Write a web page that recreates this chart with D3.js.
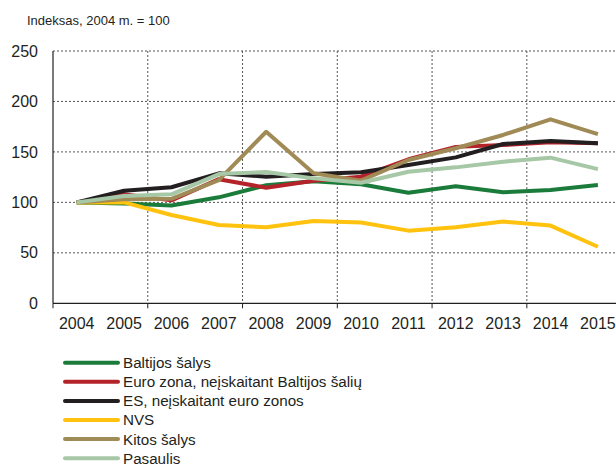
<!DOCTYPE html>
<html>
<head>
<meta charset="utf-8">
<script src="https://cdn.jsdelivr.net/npm/d3@7"></script>
<style>
  body { margin: 0; background: #fff; }
  text { font-family: "Liberation Sans Narrow", "Arial Narrow", "Liberation Sans", Arial, sans-serif; fill: #231f20; }
</style>
</head>
<body>
<div class="chart"></div>
<script>
const years = [2004, 2005, 2006, 2007, 2008, 2009, 2010, 2011, 2012, 2013, 2014, 2015];
const yTicks = [0, 50, 100, 150, 200, 250];

const baltijos = [100, 99, 97, 105, 117, 121, 118, 109.6, 116, 110, 112.3, 117.2];
const euroZona = [100, 108, 102, 123, 114.5, 121.5, 125.5, 142.7, 155, 156.8, 159.5, 158.5];
const esNeEuro = [100, 111.5, 115, 128.8, 125.5, 128, 129.8, 137, 144.6, 157.8, 160.8, 158.5];
const nvs = [100, 100, 87.5, 77.6, 75.3, 81.6, 80, 72, 75.3, 81, 77, 56];
const kitos = [100, 103, 103.5, 122, 170, 128.8, 121.5, 142, 153.6, 166.8, 182.3, 167.7];
const pasaulis = [100, 106.3, 108, 128, 130, 123.8, 119.5, 130.4, 134.7, 140.3, 144.3, 133];

const seriesNames = ['Baltijos šalys', 'Euro zona, neįskaitant Baltijos šalių', 'ES, neįskaitant euro zonos', 'NVS', 'Kitos šalys', 'Pasaulis'];
const seriesValues = [baltijos, euroZona, esNeEuro, nvs, kitos, pasaulis];
const seriesColors = ['#1b7b3b', '#b4232a', '#231f20', '#ffc20e', '#a08a55', '#a7c8a6'];

const W = 616, H = 466;
const plot = {left: 53, top: 51, right: 621.6, bottom: 303.3};

let svg = d3.select('.chart')
    .append('svg')
    .attr('width', W)
    .attr('height', H);

// scales
let xScale = d3.scaleBand()
    .domain(years)
    .range([plot.left, plot.right])
    .paddingInner(0).paddingOuter(0);

let yScale = d3.scaleLinear()
    .domain([0, 250])
    .range([plot.bottom, plot.top]);

// title
svg.append('text')
    .attr('x', 27)
    .attr('y', 25)
    .attr('font-size', 13)
    .text('Indeksas, 2004 m. = 100');

// horizontal dotted grid
svg.append('g')
    .selectAll('line')
    .data(yTicks.filter(d => d > 0))
    .join('line')
    .attr('x1', plot.left)
    .attr('x2', W)
    .attr('y1', d => yScale(d))
    .attr('y2', d => yScale(d))
    .attr('stroke', '#555')
    .attr('stroke-width', 1)
    .attr('stroke-dasharray', '2,2');

// vertical dotted grid at every second band edge
const edges = years.filter((d, i) => i > 0 && i % 2 === 0);
svg.append('g')
    .selectAll('line')
    .data(edges)
    .join('line')
    .attr('x1', d => xScale(d))
    .attr('x2', d => xScale(d))
    .attr('y1', plot.top)
    .attr('y2', plot.bottom)
    .attr('stroke', '#555')
    .attr('stroke-width', 1)
    .attr('stroke-dasharray', '2,2');

// y axis
let yAxis = d3.axisLeft(yScale)
    .tickValues(yTicks)
    .tickSize(0)
    .tickPadding(15);

svg.append('g')
    .attr('class', 'axis y-axis')
    .attr('transform', `translate(${plot.left},0)`)
    .call(yAxis)
    .call(g => g.select('.domain').remove())
    .selectAll('text')
    .attr('font-size', 16)
    .attr('font-family', null);

// x axis labels
let xAxis = d3.axisBottom(xScale)
    .tickSize(0)
    .tickPadding(14);

svg.append('g')
    .attr('class', 'axis x-axis')
    .attr('transform', `translate(0,${plot.bottom})`)
    .call(xAxis)
    .call(g => g.select('.domain').remove())
    .selectAll('text')
    .attr('font-size', 16)
    .attr('font-family', null);

// tick marks below x axis
svg.append('g')
    .selectAll('line')
    .data([years[0]].concat(edges))
    .join('line')
    .attr('x1', d => xScale(d))
    .attr('x2', d => xScale(d))
    .attr('y1', plot.bottom)
    .attr('y2', plot.bottom + 5)
    .attr('stroke', '#231f20')
    .attr('stroke-width', 1);

// axis lines
svg.append('line')
    .attr('x1', plot.left).attr('x2', W)
    .attr('y1', plot.bottom).attr('y2', plot.bottom)
    .attr('stroke', '#231f20').attr('stroke-width', 1.2);
svg.append('line')
    .attr('x1', plot.left).attr('x2', plot.left)
    .attr('y1', plot.top).attr('y2', plot.bottom)
    .attr('stroke', '#231f20').attr('stroke-width', 1.2);

// lines
const line = d3.line()
    .x((d, i) => xScale(years[i]) + xScale.bandwidth() / 2)
    .y(d => yScale(d));

svg.append('g')
    .selectAll('path')
    .data(seriesValues)
    .join('path')
    .attr('fill', 'none')
    .attr('stroke', (d, i) => seriesColors[i])
    .attr('stroke-width', 4)
    .attr('stroke-linejoin', 'round')
    .attr('d', line);

// legend
const legend = svg.append('g')
    .selectAll('g')
    .data(seriesNames)
    .join('g')
    .attr('transform', (d, i) => `translate(65,${362.7 + i * 19.1})`);

legend.append('line')
    .attr('x1', 0).attr('x2', 53)
    .attr('stroke', (d, i) => seriesColors[i])
    .attr('stroke-width', 4)
    .attr('stroke-linecap', 'round');

legend.append('text')
    .attr('x', 58)
    .attr('dy', '0.36em')
    .attr('font-size', 15.2)
    .text(d => d);
</script>
</body>
</html>
